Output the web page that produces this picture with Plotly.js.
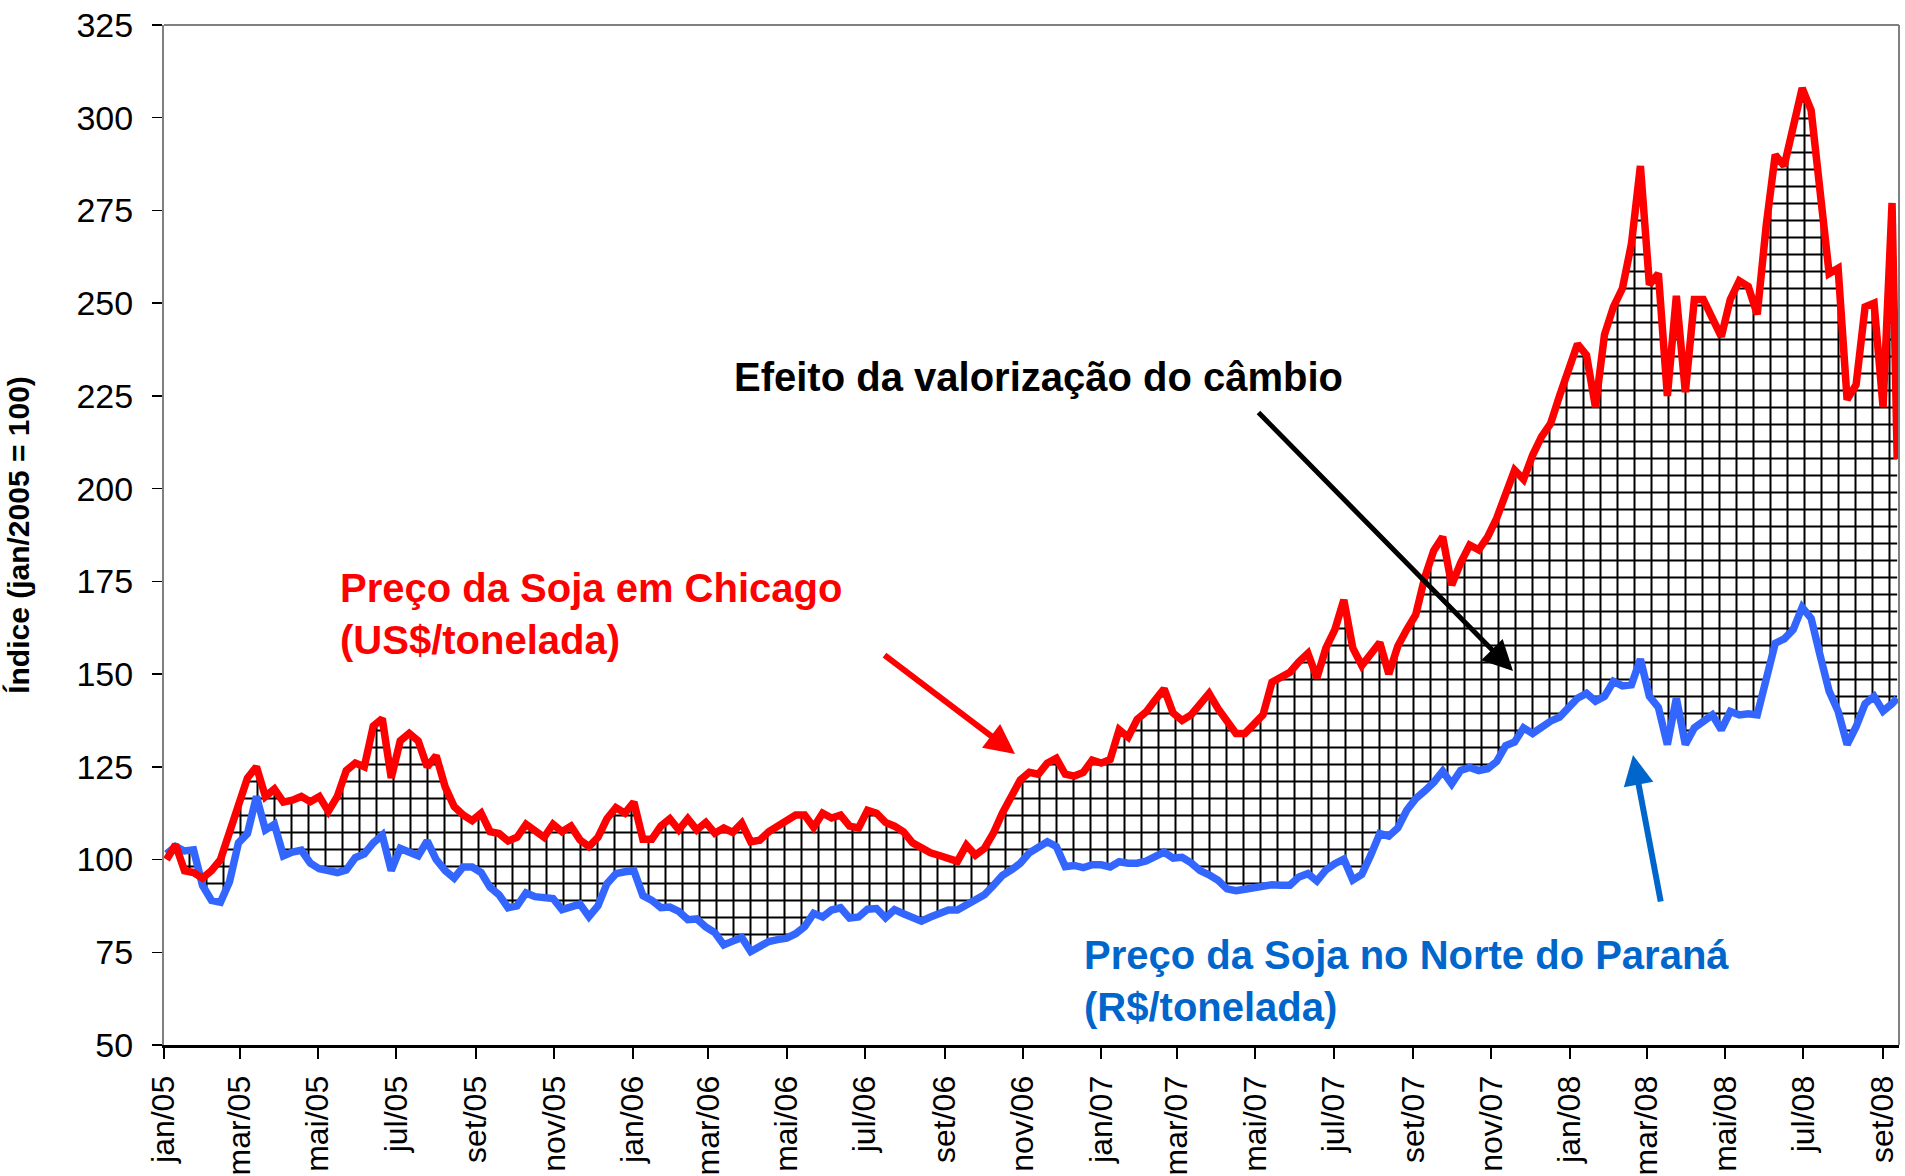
<!DOCTYPE html>
<html>
<head>
<meta charset="utf-8">
<script src="https://cdn.plot.ly/plotly-3.0.1.min.js"></script>
<style>
  html, body { margin: 0; padding: 0; background: #ffffff; }
  #chart { width: 1905px; height: 1176px; }
</style>
</head>
<body>
<div id="chart"></div>
<script>
// Weekly dates (x)
const dates = [
  "2005-01-03","2005-01-10","2005-01-17","2005-01-24","2005-01-31","2005-02-07","2005-02-14","2005-02-21","2005-02-28","2005-03-07",
  "2005-03-14","2005-03-21","2005-03-28","2005-04-04","2005-04-11","2005-04-18","2005-04-25","2005-05-02","2005-05-09","2005-05-16",
  "2005-05-23","2005-05-30","2005-06-06","2005-06-13","2005-06-20","2005-06-27","2005-07-04","2005-07-11","2005-07-18","2005-07-25",
  "2005-08-01","2005-08-08","2005-08-15","2005-08-22","2005-08-29","2005-09-05","2005-09-12","2005-09-19","2005-09-26","2005-10-03",
  "2005-10-10","2005-10-17","2005-10-24","2005-10-31","2005-11-07","2005-11-14","2005-11-21","2005-11-28","2005-12-05","2005-12-12",
  "2005-12-19","2005-12-26",
  "2006-01-02","2006-01-09","2006-01-16","2006-01-23","2006-01-30","2006-02-06","2006-02-13","2006-02-20","2006-02-27","2006-03-06",
  "2006-03-13","2006-03-20","2006-03-27","2006-04-03","2006-04-10","2006-04-17","2006-04-24","2006-05-01","2006-05-08","2006-05-15",
  "2006-05-22","2006-05-29","2006-06-05","2006-06-12","2006-06-19","2006-06-26","2006-07-03","2006-07-10","2006-07-17","2006-07-24",
  "2006-07-31","2006-08-07","2006-08-14","2006-08-21","2006-08-28","2006-09-04","2006-09-11","2006-09-18","2006-09-25","2006-10-02",
  "2006-10-09","2006-10-16","2006-10-23","2006-10-30","2006-11-06","2006-11-13","2006-11-20","2006-11-27","2006-12-04","2006-12-11",
  "2006-12-18","2006-12-25",
  "2007-01-01","2007-01-08","2007-01-15","2007-01-22","2007-01-29","2007-02-05","2007-02-12","2007-02-19","2007-02-26","2007-03-05",
  "2007-03-12","2007-03-19","2007-03-26","2007-04-02","2007-04-09","2007-04-16","2007-04-23","2007-04-30","2007-05-07","2007-05-14",
  "2007-05-21","2007-05-28","2007-06-04","2007-06-11","2007-06-18","2007-06-25","2007-07-02","2007-07-09","2007-07-16","2007-07-23",
  "2007-07-30","2007-08-06","2007-08-13","2007-08-20","2007-08-27","2007-09-03","2007-09-10","2007-09-17","2007-09-24","2007-10-01",
  "2007-10-08","2007-10-15","2007-10-22","2007-10-29","2007-11-05","2007-11-12","2007-11-19","2007-11-26","2007-12-03","2007-12-10",
  "2007-12-17","2007-12-24","2007-12-31",
  "2008-01-07","2008-01-14","2008-01-21","2008-01-28","2008-02-04","2008-02-11","2008-02-18","2008-02-25","2008-03-03","2008-03-10",
  "2008-03-17","2008-03-24","2008-03-31","2008-04-07","2008-04-14","2008-04-21","2008-04-28","2008-05-05","2008-05-12","2008-05-19",
  "2008-05-26","2008-06-02","2008-06-09","2008-06-16","2008-06-23","2008-06-30","2008-07-07","2008-07-14","2008-07-21","2008-07-28",
  "2008-08-04","2008-08-11","2008-08-18","2008-08-25","2008-09-01","2008-09-08","2008-09-12"
];

// Preço da Soja em Chicago (US$/t), índice jan/2005 = 100
const chicago = [
  100,104,97,96.5,95,97,100,107,115,122,
  125,117,119,115.5,116,117,115.6,117,113,117,
  124,126,125,136,138,122,132,134,132,125,
  128,119.6,114.3,112,110.5,112.5,107.5,107,105,106,
  109.5,108,106,109.5,107.5,109,105.3,103.5,106,111,
  114,112.5,
  115.5,105.5,105.5,109,111,108,111,108,110,107.1,
  108.5,107.3,109.8,104.8,105.2,107.5,109,110.8,112,112,
  108.7,112.5,111.2,112,109,108.5,113.3,112.5,110,109,
  107.5,104.5,103.2,101.8,101.1,100.2,99.5,103.9,101.2,103,
  107.1,112.5,117.5,121.5,123.5,123,126,127.3,123,122.5,
  123.5,126.8,
  126,127,135,133,137.8,139.8,143,146,139.5,137.5,
  139,142,144.8,140.7,137.6,134,134,136.5,139,147.8,
  149.2,150.5,153.3,155.6,149,157,162,170,157,152.3,
  155.4,158.5,150,157.5,162,166,176,183.3,187,174,
  180,184.8,183.5,187,192,198,205,202.5,209,214,
  217.5,225,232,
  239,236,222,241.5,249,254,266,287,255,258,
  225,252,226,251,251,246,241,251,256,254.5,
  247,271,290,287,298.5,308,302,280,258,259.4,
  224,228,249,250,222,277,208
];

// Preço da Soja no Norte do Paraná (R$/t), índice jan/2005 = 100
const parana = [
  101.5,103.5,102.3,102.6,93,89,88.5,94,104.5,107,
  117,108,109.5,101,102,102.5,99,97.5,97,96.5,
  97.2,100.5,101.5,104.5,106.6,97,103,102,101,105,
  100,97,95,98,98,96.5,92.5,90.5,87,87.5,
  91,90,89.5,89.5,86.5,87.5,88,84.6,87.5,93.5,
  96.2,96.7,
  97,90.3,89,87,87.2,86,83.8,84,81.8,80.3,
  77,78,79,75.2,76.3,77.9,78.4,78.8,80,81.9,
  85.5,84.5,86.4,87,84.2,84.5,86.6,86.8,84.3,86.5,
  85.4,84.5,83.4,84.5,85.5,86.4,86.4,87.8,89.1,90.5,
  93,95.7,97.2,99,101.8,103.2,104.8,103.5,98.1,98.4,
  97.8,98.6,
  98.6,98,99.4,99,99,99.6,100.9,102,100.4,100.6,
  99.1,97,95.9,94.4,92.1,91.6,92,92.4,92.9,93.2,
  93.1,93.1,95.3,96.2,94.2,97.2,98.9,100.1,94.5,96,
  101.2,107,106.3,108.5,113.3,116.4,118.5,120.8,123.8,120.4,
  124,124.8,124,124.5,126.4,130.7,131.7,135.5,134,135.8,
  137.3,138.4,140.8,
  143.5,144.8,142.7,144,148,146.8,147.1,154,144,141,
  131,143.5,131,135.5,137.5,139,135,139.9,139,139.3,
  139,148.5,158.3,159.5,162,168,165,155,145.4,140,
  131,135.8,142,144,140,142,143.5
];

// Axis ticks
const xTickVals = [
  "2005-01-01","2005-03-01","2005-05-01","2005-07-01","2005-09-01","2005-11-01",
  "2006-01-01","2006-03-01","2006-05-01","2006-07-01","2006-09-01","2006-11-01",
  "2007-01-01","2007-03-01","2007-05-01","2007-07-01","2007-09-01","2007-11-01",
  "2008-01-01","2008-03-01","2008-05-01","2008-07-01","2008-09-01"
];
const xTickText = [
  "jan/05","mar/05","mai/05","jul/05","set/05","nov/05",
  "jan/06","mar/06","mai/06","jul/06","set/06","nov/06",
  "jan/07","mar/07","mai/07","jul/07","set/07","nov/07",
  "jan/08","mar/08","mai/08","jul/08","set/08"
];
const yTickVals = [50,75,100,125,150,175,200,225,250,275,300,325];

const FONT = "Arial, 'Liberation Sans', Helvetica, sans-serif";

const traces = [
  {
    x: dates, y: parana, type: 'scatter', mode: 'lines',
    name: 'Preço da Soja no Norte do Paraná (R$/tonelada)',
    line: {color: '#3366FF', width: 7.5},
    hoverinfo: 'skip'
  },
  {
    x: dates, y: chicago, type: 'scatter', mode: 'lines',
    name: 'Preço da Soja em Chicago (US$/tonelada)',
    line: {color: '#FF0000', width: 7.5},
    fill: 'tonexty',
    fillcolor: '#ffffff',
    fillpattern: {shape: '+', size: 17, solidity: 0.22, fgcolor: '#000000', bgcolor: '#ffffff', fillmode: 'replace'},
    hoverinfo: 'skip'
  }
];

const L = 164, T = 25, R = 1899, B = 1045;
const W = R - L, H = B - T;
const px = v => (v - L) / W;
const py = v => (B - v) / H;

const layout = {
  width: 1905, height: 1176,
  margin: {l: L, r: 1905 - R, t: T, b: 1176 - B, pad: 0},
  paper_bgcolor: '#ffffff', plot_bgcolor: '#ffffff',
  showlegend: false,
  font: {family: FONT, color: '#000000'},
  xaxis: {
    type: 'date',
    range: ['2005-01-01', '2008-09-13 10:00'],
    tickmode: 'array', tickvals: xTickVals, ticktext: xTickText,
    tickangle: -90,
    tickfont: {family: FONT, size: 32, color: '#000000'},
    ticks: 'outside', ticklen: 11, tickwidth: 2, tickcolor: '#000000',
    ticklabelstandoff: 4,
    showline: true, linecolor: '#000000', linewidth: 3,
    showgrid: false, zeroline: false
  },
  yaxis: {
    range: [50, 325],
    tickmode: 'array', tickvals: yTickVals,
    tickfont: {family: FONT, size: 34, color: '#000000'},
    ticks: 'outside', ticklen: 10, tickwidth: 1.5, tickcolor: '#000000',
    ticklabelstandoff: 12,
    showline: true, linecolor: '#808080', linewidth: 2,
    showgrid: false, zeroline: false,
    title: {text: 'Índice (jan/2005 = 100)', font: {family: FONT, size: 30, weight: 'bold', color: '#000000'}, standoff: 38}
  },
  shapes: [
    {type: 'line', xref: 'paper', yref: 'paper', x0: 0, x1: 1, y0: 1, y1: 1, line: {color: '#808080', width: 2}},
    {type: 'line', xref: 'paper', yref: 'paper', x0: 1, x1: 1, y0: 0, y1: 1, line: {color: '#808080', width: 2}}
  ],
  annotations: [
    {
      text: 'Efeito da valorização do câmbio', xref: 'paper', yref: 'paper',
      x: px(1038), y: py(377), xanchor: 'center', yanchor: 'middle', showarrow: false,
      font: {family: FONT, size: 40, weight: 'bold', color: '#000000'}
    },
    {
      text: 'Preço da Soja em Chicago<br>(US$/tonelada)', xref: 'paper', yref: 'paper',
      x: px(338), y: py(614), xanchor: 'left', yanchor: 'middle', align: 'left', showarrow: false,
      font: {family: FONT, size: 40, weight: 'bold', color: '#FF0000'}
    },
    {
      text: 'Preço da Soja no Norte do Paraná<br>(R$/tonelada)', xref: 'paper', yref: 'paper',
      x: px(1082), y: py(981), xanchor: 'left', yanchor: 'middle', align: 'left', showarrow: false,
      font: {family: FONT, size: 40, weight: 'bold', color: '#0066CC'}
    },
    {
      text: '', xref: 'paper', yref: 'paper', x: px(1513), y: py(671),
      showarrow: true, ax: 1257 - 1513, ay: 411 - 671, axref: 'pixel', ayref: 'pixel',
      arrowhead: 2, arrowsize: 1.2, arrowwidth: 5, arrowcolor: '#000000', standoff: 0
    },
    {
      text: '', xref: 'paper', yref: 'paper', x: px(1015), y: py(754),
      showarrow: true, ax: 883 - 1015, ay: 654 - 754, axref: 'pixel', ayref: 'pixel',
      arrowhead: 2, arrowsize: 1.0, arrowwidth: 6, arrowcolor: '#FF0000', standoff: 0
    },
    {
      text: '', xref: 'paper', yref: 'paper', x: px(1633), y: py(755),
      showarrow: true, ax: 1661 - 1633, ay: 903 - 755, axref: 'pixel', ayref: 'pixel',
      arrowhead: 2, arrowsize: 1.0, arrowwidth: 6, arrowcolor: '#0066CC', standoff: 0
    }
  ]
};

Plotly.newPlot('chart', traces, layout, {staticPlot: true, displayModeBar: false});
</script>
</body>
</html>
